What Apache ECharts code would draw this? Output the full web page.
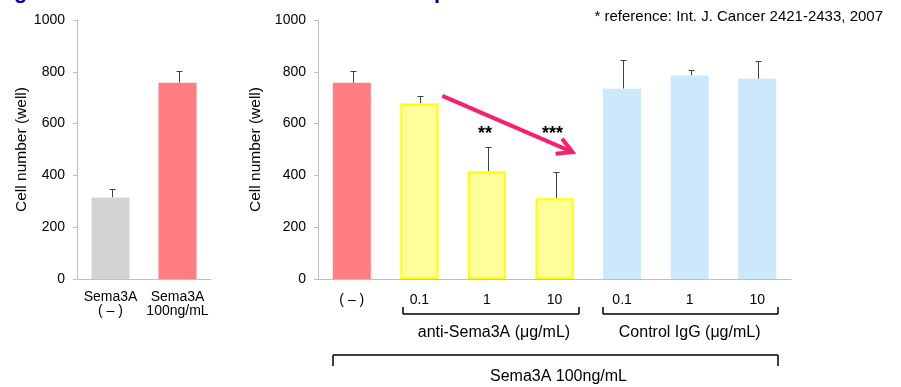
<!DOCTYPE html>
<html>
<head>
<meta charset="utf-8">
<script src="https://cdn.jsdelivr.net/npm/echarts@6/dist/echarts.min.js"></script>
<style>
html, body { margin: 0; padding: 0; background: #fff; }
#chart { width: 901px; height: 387px; }
</style>
</head>
<body>
<div id="chart"></div>
<script>
// values
const leftCategories = ['Sema3A\n( – )', 'Sema3A\n100ng/mL']
const leftValues = [315, 758]
const leftErrors = [349, 804]
const leftColors = ['#d3d3d3', '#ff7c80']

const rightCategories = ['( – )', '0.1', '1', '10', '0.1', '1', '10']
const rightValues = [758, 678, 416, 312, 735, 786, 773]
const rightErrors = [804, 708, 510, 413, 846, 808, 840]
const rightGroups = ['sema', 'anti', 'anti', 'anti', 'igg', 'igg', 'igg']
const sigMarks = ['', '', '**', '***', '', '', '']
const sigLevel = 568

const yMin = 0
const yMax = 1000
const yStep = 200

const groupStyle = {
  sema: { color: '#ff7c80' },
  anti: { color: '#ffff99', borderColor: '#ffff00', borderWidth: 2 },
  igg: { color: '#cce8fb' }
}

const font = '"Liberation Sans", Arial, sans-serif'
const axisGray = '#bfbfbf'

const chart = echarts.init(document.getElementById('chart'))

const yAxis = (idx) => ({
  type: 'value',
  gridIndex: idx,
  min: yMin,
  max: yMax,
  interval: yStep,
  name: 'Cell number (well)',
  nameLocation: 'middle',
  nameGap: 46,
  nameTextStyle: { fontFamily: font, fontSize: 15.5, color: '#000' },
  axisLine: { show: true, lineStyle: { color: axisGray } },
  axisTick: { show: true, length: 4, lineStyle: { color: axisGray } },
  axisLabel: { fontFamily: font, fontSize: 14, color: '#000', margin: 12, formatter: (v) => String(v) },
  splitLine: { show: false }
})

const xAxis = (idx, cats, margin) => ({
  type: 'category',
  gridIndex: idx,
  data: cats,
  axisLine: { lineStyle: { color: axisGray } },
  axisTick: { length: 4, lineStyle: { color: axisGray } },
  axisLabel: { fontFamily: font, fontSize: 14, color: '#000', margin: margin, lineHeight: 14, interval: 0 }
})

const errorSeries = (idx, values, errors) => ({
  type: 'custom',
  xAxisIndex: idx,
  yAxisIndex: idx,
  z: 1,
  silent: true,
  data: values.map((v, i) => [i, v, errors[i]]),
  renderItem: (params, api) => {
    const base = api.coord([api.value(0), api.value(1)])
    const top = api.coord([api.value(0), api.value(2)])
    const x = Math.round(base[0]) + 1.5
    const yTop = Math.round(top[1]) + 0.5
    const st = { stroke: '#404040', lineWidth: 1 }
    return {
      type: 'group',
      children: [
        { type: 'line', shape: { x1: x, y1: base[1], x2: x, y2: yTop }, style: st },
        { type: 'line', shape: { x1: x - 3, y1: yTop, x2: x + 3, y2: yTop }, style: st }
      ]
    }
  }
})

chart.setOption({
  animation: false,
  grid: [
    { left: 77, width: 134, top: 20, bottom: 108 },
    { left: 318, width: 473, top: 20, bottom: 108 }
  ],
  xAxis: [xAxis(0, leftCategories, 11), xAxis(1, rightCategories, 14)],
  yAxis: [yAxis(0), yAxis(1)],
  series: [
    {
      type: 'bar',
      xAxisIndex: 0,
      yAxisIndex: 0,
      barWidth: 38,
      z: 2,
      data: leftValues.map((v, i) => ({ value: v, itemStyle: { color: leftColors[i] } }))
    },
    errorSeries(0, leftValues, leftErrors),
    {
      type: 'bar',
      xAxisIndex: 1,
      yAxisIndex: 1,
      barWidth: 38,
      z: 2,
      data: rightValues.map((v, i) => ({ value: v, itemStyle: groupStyle[rightGroups[i]] }))
    },
    errorSeries(1, rightValues, rightErrors),
    {
      type: 'custom',
      xAxisIndex: 1,
      yAxisIndex: 1,
      silent: true,
      data: sigMarks.map((s, i) => [i, sigLevel, s]),
      renderItem: (params, api) => {
        const p = api.coord([api.value(0), api.value(1)])
        return {
          type: 'text',
          style: {
            x: p[0] - 2, y: p[1] + 2,
            text: sigMarks[params.dataIndex],
            align: 'center', verticalAlign: 'middle',
            font: 'bold 18px ' + font, fill: '#000'
          }
        }
      }
    }
  ]
})

// annotations placed from the axes
const px = (i, v) => chart.convertToPixel({ xAxisIndex: 1, yAxisIndex: 1 }, [i, v])
const cx = rightCategories.map((c, i) => px(i, 0)[0])
const axisY = px(0, 0)[1]

const seg = (x1, y1, x2, y2) => ({
  type: 'line',
  silent: true,
  shape: { x1: x1, y1: y1, x2: x2, y2: y2 },
  style: { stroke: '#000', lineWidth: 1.5 }
})

// legs go up (open) or down from the horizontal bar
const bracket = (x1, x2, yBar, yLeg) => [
  seg(x1, yBar, x2, yBar),
  seg(x1, yBar, x1, yLeg),
  seg(x2, yBar, x2, yLeg)
]

const label = (x, y, text) => ({
  type: 'text',
  silent: true,
  style: { x: x, y: y, text: text, align: 'center', verticalAlign: 'middle', font: '16px ' + font, fill: '#000' }
})

const a1 = [cx[1] + 23, px(1, 707)[1]]
const a2 = [cx[3] + 18, px(3, 490)[1]]
const ang = Math.atan2(a2[1] - a1[1], a2[0] - a1[0])
const head = 17
const armA = [a2[0] - head * Math.cos(ang - 0.5), a2[1] - head * Math.sin(ang - 0.5)]
const armB = [a2[0] - head * Math.cos(ang + 0.5), a2[1] - head * Math.sin(ang + 0.5)]
const arrowStyle = { stroke: '#fa1e6e', lineWidth: 4, fill: null, lineJoin: 'miter', lineCap: 'butt' }

const antiX1 = Math.round(cx[1] - 16)
const antiX2 = Math.round(cx[3] + 24)
const iggX1 = Math.round(cx[4] - 19)
const allX1 = Math.round(cx[0] - 19)
const endX2 = Math.round(cx[6] + 21)

chart.setOption({
  graphic: [
    ...bracket(antiX1, antiX2, axisY + 35, axisY + 28),
    ...bracket(iggX1, endX2, axisY + 35, axisY + 28),
    label((cx[1] + cx[3]) / 2 + 7, axisY + 54, 'anti-Sema3A (μg/mL)'),
    label((cx[4] + cx[6]) / 2, axisY + 54, 'Control IgG (μg/mL)'),
    ...bracket(allX1, endX2, axisY + 76, axisY + 87),
    label((cx[0] + cx[6]) / 2 + 4, axisY + 98, 'Sema3A 100ng/mL'),
    { type: 'polyline', silent: true, shape: { points: [a1, [a2[0] - 3 * Math.cos(ang), a2[1] - 3 * Math.sin(ang)]] }, style: arrowStyle },
    { type: 'polyline', silent: true, shape: { points: [armA, a2, armB] }, style: arrowStyle },
    {
      type: 'text',
      style: { x: 883, y: 17, text: '* reference: Int. J. Cancer 2421-2433, 2007', align: 'right', verticalAlign: 'middle', font: '15px ' + font, fill: '#000' }
    },
    // clipped title above the picture
    { type: 'text', style: { x: 14, y: 3, text: 'g', verticalAlign: 'bottom', font: 'bold 22px ' + font, fill: '#000099' } },
    { type: 'text', style: { x: 434, y: 3, text: 'p', verticalAlign: 'bottom', font: 'bold 22px ' + font, fill: '#000099' } }
  ]
})
</script>
</body>
</html>
